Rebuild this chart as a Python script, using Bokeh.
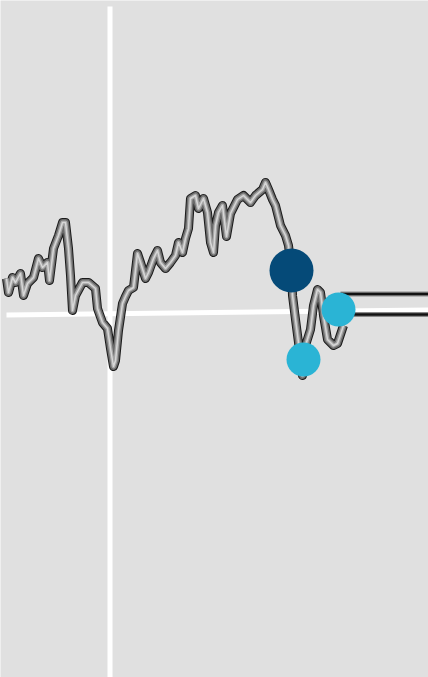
from bokeh.plotting import figure
from bokeh.models import Range1d
from bokeh.embed import file_html
from bokeh.resources import INLINE

# price series (day index, price)
days = [0, 2, 6, 9, 14, 17, 21, 27, 32, 36, 41, 43, 47, 52, 56, 59, 62, 64, 66, 69,
        76, 82, 89, 91, 96, 101, 104, 107, 109, 112, 116, 119, 122, 127, 131, 134, 139,
        142, 147, 151, 154, 159, 164, 169, 172, 176, 179, 182, 184, 189, 192, 197, 201,
        204, 207, 209, 212, 216, 220, 224, 231, 237, 244, 249, 256, 259, 262, 266, 269,
        274, 279, 282, 285, 286, 289, 292, 296, 299, 304, 307, 311, 314, 317, 321, 327,
        331, 337]
prices = [30.5, 27, 30.75, 29.5, 31.75, 26.25, 29.25, 30.75, 35.5, 33.25, 34.5, 30, 38,
          41.25, 44.5, 44.5, 38, 31.25, 22.5, 26.25, 29.5, 29.5, 28, 23, 19.5, 18, 13, 8.5,
          10, 17.5, 24.25, 26, 27.5, 28.25, 36.75, 34.5, 30.5, 32, 35.5, 37.5, 34.5, 33,
          34.5, 36.25, 39.5, 37, 40.5, 43, 50.5, 51.25, 48, 50.5, 47, 39.5, 37, 43.75, 47,
          48.75, 41, 46.75, 50.25, 51.25, 49.5, 51.25, 52.75, 54.5, 52.75, 50.25, 48.75,
          43.75, 41.25, 38.75, 32.5, 26.25, 20.25, 14.5, 6.25, 13.75, 17.75, 23.75, 27.75,
          27, 21.25, 15.25, 13.75, 14.25, 18.75]

# trend line
trend_days = [0, 424]
trend_vals = [21.375, 22.625]

# marker day
marker_day = 103.5

# highlighted points
big_day = [285]
big_val = [32.5]
small_days = [297, 332]
small_vals = [10.25, 22.75]

# band levels at the right
band_days = [334, 430]
band_upper = [26.625, 26.625]
band_lower = [21.5, 21.5]

p = figure(width=428, height=677, output_backend="svg", toolbar_location=None,
           x_range=Range1d(-6, 422), y_range=Range1d(-69.25, 100),
           min_border=0, background_fill_color="#e0e0e0", border_fill_color="#e0e0e0",
           outline_line_color=None)
p.axis.visible = False
p.grid.visible = False

# vertical marker line
p.segment(x0=[marker_day], y0=[98.5], x1=[marker_day], y1=[-80],
          line_color="white", line_width=5)
# trend line
p.line(trend_days, trend_vals, line_color="white", line_width=5)

# band lines
for lv in (band_upper, band_lower):
    p.line(band_days, lv, line_color="#8a8a8a", line_width=5)
    p.line(band_days, lv, line_color="#111111", line_width=2.5)

# textured price line
p.line(days, prices, line_color="#1a1a1a", line_width=9, line_join="round")
p.line(days, prices, line_color="#6a6a6a", line_width=7, line_join="round")
p.line(days, prices, line_color="#a5a5a5", line_width=4, line_join="round")
p.line(days, prices, line_color="#ececec", line_width=1.5, line_join="round", line_alpha=0.7)

# points
p.scatter(big_day, big_val, size=44, color="#054a78", line_color=None)
p.scatter(small_days, small_vals, size=34, color="#2ab4d5", line_color=None)

html = file_html(p, INLINE)
html = html.replace("<body>", '<body style="background:#e0e0e0">', 1)
open("out.html", "w").write(html)
